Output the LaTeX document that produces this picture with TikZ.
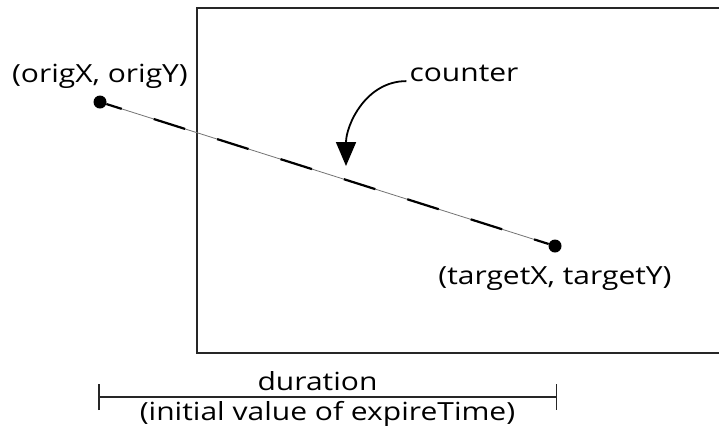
\documentclass[tikz,border=0pt]{standalone}
\usepackage{fontspec}
\setmainfont{Open Sans}[FakeStretch=1.2]
\usetikzlibrary{arrows.meta,positioning}

\begin{document}
\begin{tikzpicture}[x=1pt,y=-1pt,
  lbl/.style={font=\fontsize{25}{30}\selectfont,inner sep=0pt},
  endpt/.style={circle,fill=black,inner sep=0pt,minimum size=13pt},
  frame/.style={draw=black!85,line width=2pt},
  track/.style={draw=black!55,line width=0.8pt},
  trackdash/.style={draw=black,line width=2.2pt,dash pattern=on 33pt off 33.5pt,dash phase=16.9pt},
  pointer/.style={-{Triangle[length=24pt,width=20pt]},line width=1.8pt},
  dimline/.style={draw=black!85,line width=1.5pt,{Bar[width=26pt]}-{Bar[width=26pt]}}
]
\useasboundingbox (0,0) rectangle (719,440);
% open frame, right side runs off the page
\draw[frame] (719,8) -- (197,8) -- (197,353) -- (719,353);
\node[endpt] (orig) at (100,102) {};
\node[endpt] (target) at (555,246) {};
\draw[track] (orig) -- (target);
\draw[trackdash] (orig) -- (target);
\node[lbl,above=7pt of orig] (origlbl) {(origX, origY)};
\node[lbl,below=14pt of target] (targetlbl) {(targetX, targetY)};
\node[lbl] (counter) at (464,73) {counter};
\coordinate (tip) at (346,166);
\draw[pointer] ([xshift=-3pt]counter.base west) to[out=180,in=90] (tip);
% duration bar
\coordinate (dstart) at (98,397);
\coordinate (dend) at (557,397);
\draw[dimline] (dstart) -- node[lbl,above=6pt,xshift=-10pt] (durlbl) {duration}
  node[lbl,below=4pt] (initlbl) {(initial value of expireTime)} (dend);
\end{tikzpicture}
\end{document}
